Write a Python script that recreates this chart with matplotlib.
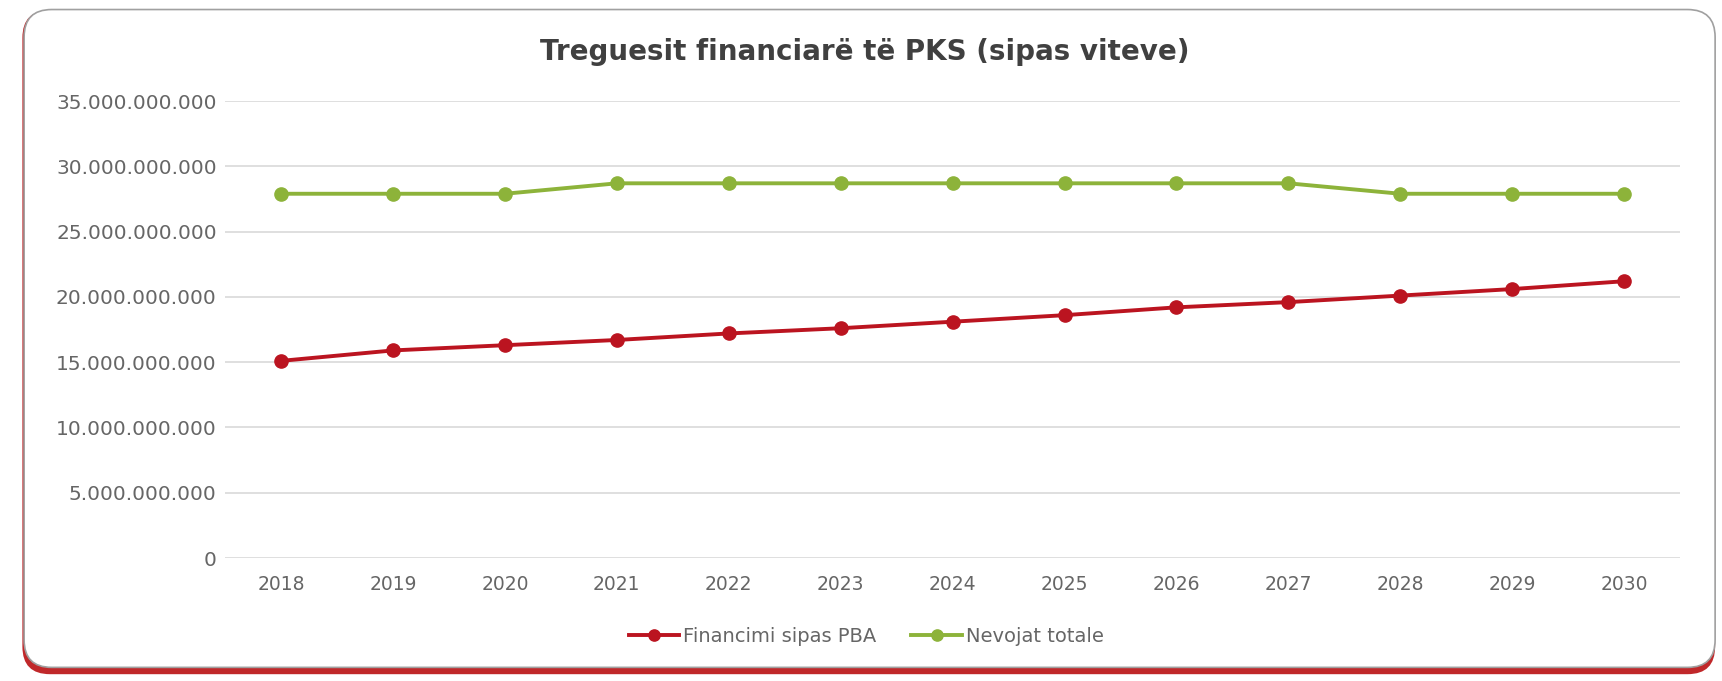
import matplotlib.pyplot as plt
from matplotlib.patches import FancyBboxPatch
from matplotlib.ticker import FuncFormatter

# data
years = ['2018', '2019', '2020', '2021', '2022', '2023', '2024',
         '2025', '2026', '2027', '2028', '2029', '2030']
financimi_pba = [15.1e9, 15.9e9, 16.3e9, 16.7e9, 17.2e9, 17.6e9, 18.1e9,
                 18.6e9, 19.2e9, 19.6e9, 20.1e9, 20.6e9, 21.2e9]
nevojat_totale = [27.9e9, 27.9e9, 27.9e9, 28.7e9, 28.7e9, 28.7e9, 28.7e9,
                  28.7e9, 28.7e9, 28.7e9, 27.9e9, 27.9e9, 27.9e9]

plt.rcParams['font.family'] = ['DejaVu Sans']

fig = plt.figure(figsize=(17.22, 6.81), dpi=100)
asp = 1722 / 681

# card frame: red shadow at the bottom, thin grey outline
shadow = FancyBboxPatch((0.013, 0.010), 0.983, 0.975,
                        boxstyle="round,pad=0,rounding_size=0.016",
                        transform=fig.transFigure, facecolor='#c0282a',
                        edgecolor='none', mutation_aspect=asp, zorder=-2)
card = FancyBboxPatch((0.014, 0.020), 0.982, 0.966,
                      boxstyle="round,pad=0,rounding_size=0.016",
                      transform=fig.transFigure, facecolor='white',
                      edgecolor='#a0a0a0', linewidth=1.2,
                      mutation_aspect=asp, zorder=-1)
fig.patches.extend([shadow, card])

ax = fig.add_axes([0.1307, 0.1806, 0.845, 0.671])
ax.set_facecolor('none')
x = range(len(years))
ax.plot(x, financimi_pba, color='#bb1420', linewidth=2.8, marker='o',
        markersize=9.5, label='Financimi sipas PBA', zorder=3)
ax.plot(x, nevojat_totale, color='#8db33a', linewidth=2.8, marker='o',
        markersize=9.5, label='Nevojat totale', zorder=3)

ax.set_xlim(-0.5, len(years) - 0.5)
ax.set_ylim(0, 35e9)
ax.set_yticks([i * 5e9 for i in range(8)])
ax.yaxis.set_major_formatter(FuncFormatter(lambda v, p: f"{int(v):,}".replace(',', '.')))
ax.set_xticks(list(x))
ax.set_xticklabels(years)
ax.grid(axis='y', color='#d9d9d9', linewidth=1.2)
ax.set_axisbelow(True)
for s in ax.spines.values():
    s.set_visible(False)
ax.tick_params(axis='x', length=0, labelsize=13.5, colors='#666666', pad=12)
ax.tick_params(axis='y', length=0, labelsize=14.5, colors='#666666', pad=6)

fig.text(0.502, 0.924, 'Treguesit financiarë të PKS (sipas viteve)',
         ha='center', va='center', fontsize=20, fontweight='bold', color='#404040')

fig.legend(loc='center', bbox_to_anchor=(0.503, 0.065), ncol=2,
           frameon=False, fontsize=14, labelcolor='#666666',
           handlelength=2.6, columnspacing=1.8, handletextpad=0.2,
           markerscale=0.85)

fig.savefig('out.png', dpi=100)
